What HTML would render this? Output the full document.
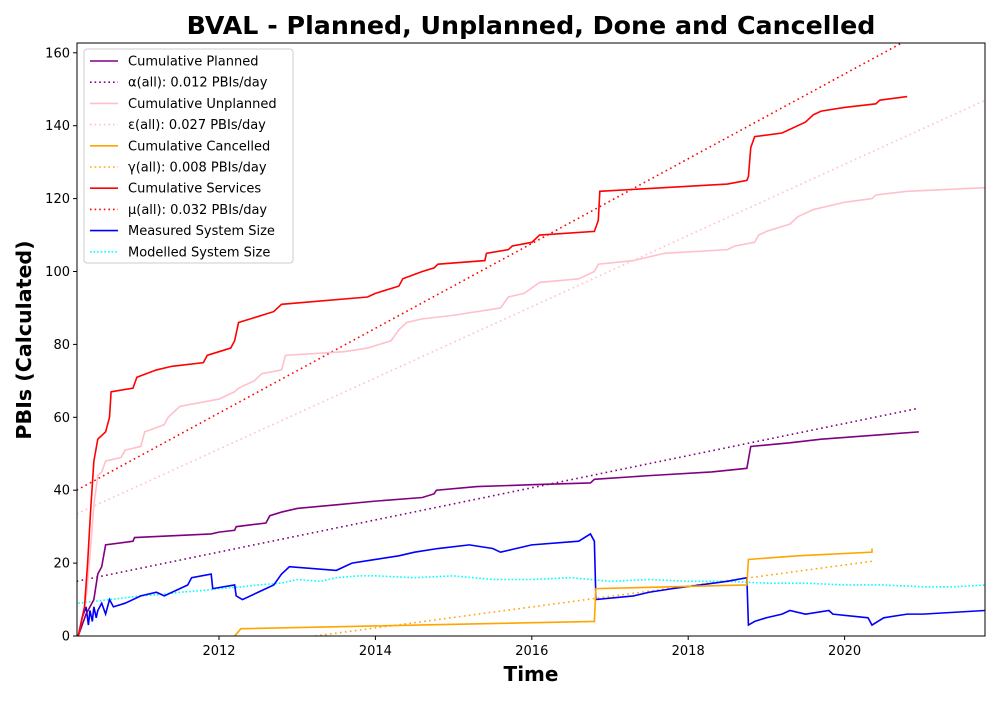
<!DOCTYPE html>
<html><head><meta charset="utf-8"><style>
body{margin:0;background:#fff;font-family:"Liberation Sans","DejaVu Sans",sans-serif}
svg text{font-family:"DejaVu Sans","Liberation Sans",sans-serif}
</style></head><body>
<svg id="c" width="1000" height="700" xmlns="http://www.w3.org/2000/svg"></svg>
<script>
const plannedX=[2010.2,2010.3,2010.35,2010.4,2010.45,2010.5,2010.55,2010.9,2010.92,2011.9,2012.0,2012.2,2012.22,2012.6,2012.65,2012.8,2013.0,2013.5,2014.0,2014.6,2014.75,2014.78,2015.3,2016.0,2016.75,2016.8,2017.5,2018.3,2018.75,2018.8,2019.3,2019.7,2020.95];
const plannedY=[0,6,8,10,17,19,25,26,27,28,28.5,29,30,31,33,34,35,36,37,38,39,40,41,41.5,42,43,44,45,46,52,53,54,56];
const unplX=[2010.2,2010.3,2010.35,2010.4,2010.45,2010.5,2010.55,2010.75,2010.8,2011.0,2011.05,2011.3,2011.35,2011.5,2012.0,2012.2,2012.25,2012.45,2012.55,2012.8,2012.85,2013.6,2013.9,2014.2,2014.3,2014.4,2014.6,2015.0,2015.6,2015.7,2015.9,2016.1,2016.6,2016.8,2016.85,2017.3,2017.7,2018.5,2018.6,2018.85,2018.9,2019.0,2019.3,2019.4,2019.6,2020.0,2020.35,2020.4,2020.8,2021.8];
const unplY=[0,10,22,36,44,45,48,49,51,52,56,58,60,63,65,67,68,70,72,73,77,78,79,81,84,86,87,88,90,93,94,97,98,100,102,103,105,106,107,108,110,111,113,115,117,119,120,121,122,123];
const servX=[2010.2,2010.28,2010.32,2010.36,2010.4,2010.45,2010.55,2010.6,2010.62,2010.9,2010.95,2011.2,2011.4,2011.8,2011.85,2012.0,2012.15,2012.2,2012.25,2012.7,2012.8,2013.9,2014.0,2014.3,2014.35,2014.6,2014.75,2014.8,2015.4,2015.42,2015.7,2015.75,2016.0,2016.1,2016.8,2016.85,2016.87,2018.5,2018.75,2018.77,2018.8,2018.85,2019.2,2019.5,2019.6,2019.7,2020.0,2020.4,2020.45,2020.8];
const servY=[0,8,20,35,48,54,56,60,67,68,71,73,74,75,77,78,79,81,86,89,91,93,94,96,98,100,101,102,103,105,106,107,108,110,111,114,122,124,125,126,134,137,138,141,143,144,145,146,147,148];
const cancX=[2012.2,2012.28,2016.8,2016.82,2018.75,2018.77,2019.4,2020.35,2020.35];
const cancY=[0,2,4,13,14,21,22,23,24];
const measX=[2010.2,2010.25,2010.3,2010.33,2010.35,2010.38,2010.4,2010.43,2010.45,2010.5,2010.55,2010.6,2010.65,2010.8,2011.0,2011.2,2011.3,2011.5,2011.6,2011.65,2011.9,2011.92,2012.2,2012.22,2012.3,2012.5,2012.7,2012.8,2012.9,2013.5,2013.7,2014.0,2014.3,2014.5,2014.8,2015.2,2015.5,2015.6,2015.8,2016.0,2016.6,2016.75,2016.8,2016.82,2017.3,2017.5,2017.8,2018.5,2018.75,2018.77,2018.85,2019.0,2019.2,2019.3,2019.5,2019.8,2019.85,2020.3,2020.35,2020.5,2020.8,2021.0,2021.8];
const measY=[0,5,8,3,7,4,8,5,7,9,6,10,8,9,11,12,11,13,14,16,17,13,14,11,10,12,14,17,19,18,20,21,22,23,24,25,24,23,24,25,26,28,26,10,11,12,13,15,16,3,4,5,6,7,6,7,6,5,3,5,6,6,7];
const modX=[2010.2,2010.4,2010.6,2010.8,2011.0,2011.3,2011.5,2011.8,2012.0,2012.3,2012.5,2012.8,2013.0,2013.3,2013.5,2013.8,2014.0,2014.5,2015.0,2015.5,2016.0,2016.5,2017.0,2017.5,2018.0,2018.5,2019.0,2019.5,2020.0,2020.5,2021.0,2021.4,2021.8];
const modY=[9,9.5,10,10.5,11,11.5,12,12.5,13,13.5,14,14.5,15.5,15,16,16.5,16.5,16,16.5,15.5,15.5,16,15,15.5,15,15,14.5,14.5,14,14,13.5,13.5,14];
const trends=[{x:[2010.18,2020.95],y:[15,62.5],c:'purple'},{x:[2010.18,2021.8],y:[33.5,147],c:'pink'},{x:[2013.23,2020.35],y:[0,20.5],c:'orange'},{x:[2010.18,2020.8],y:[40,163.5],c:'red'}];
const yTicks=[0,20,40,60,80,100,120,140,160];
const xTicks=[2012,2014,2016,2018,2020];
const L=77,R=985,T=43,B=636;
const sx=v=>219+(v-2012)*78.2;
const sy=v=>B-v*3.645;
const svg=document.getElementById('c');const NS='http://www.w3.org/2000/svg';
function mk(t,a,p){const e=document.createElementNS(NS,t);for(const k in a)e.setAttribute(k,a[k]);(p||svg).appendChild(e);return e;}
const clip=mk('clipPath',{id:'cp'});mk('rect',{x:L,y:T,width:R-L,height:B-T},clip);
const g=mk('g',{'clip-path':'url(#cp)'});
function line(xs,ys,col,dash,name,w){const p=mk('polyline',{points:xs.map((x,i)=>sx(x)+','+sy(ys[i])).join(' '),fill:'none',stroke:col,'stroke-width':w||1.6,'stroke-dasharray':dash||''},g);

}
trends.forEach((t,i)=>line(t.x,t.y,t.c,'1.6 3.4','trend-line-'+t.c,1.6));
line(modX,modY,'cyan','1.6 2','modelled-system-size-line');
line(measX,measY,'blue','','measured-system-size-line');
line(cancX,cancY,'orange','','cumulative-cancelled-line');
line(plannedX,plannedY,'purple','','cumulative-planned-line');
line(unplX,unplY,'pink','','cumulative-unplanned-line');
line(servX,servY,'red','','cumulative-services-line');
mk('rect',{x:L,y:T,width:R-L,height:B-T,fill:'none',stroke:'#000','stroke-width':1});
yTicks.forEach(v=>{mk('line',{x1:L-4,x2:L,y1:sy(v),y2:sy(v),stroke:'#000'});const t=mk('text',{x:L-7,y:sy(v)+4.5,'text-anchor':'end','font-size':13});t.textContent=v;

});
xTicks.forEach(v=>{mk('line',{x1:sx(v),x2:sx(v),y1:B,y2:B+4,stroke:'#000'});const t=mk('text',{x:sx(v),y:B+19,'text-anchor':'middle','font-size':13});t.textContent=v;

});
let t=mk('text',{x:531,y:34,'text-anchor':'middle','font-size':25.3,'font-weight':'bold'});t.textContent='BVAL - Planned, Unplanned, Done  and Cancelled';


t=mk('text',{x:531,y:681,'text-anchor':'middle','font-size':20,'font-weight':'bold'});t.textContent='Time';


t=mk('text',{x:31,y:340,'text-anchor':'middle','font-size':20.6,'font-weight':'bold',transform:'rotate(-90 31 340)'});t.textContent='PBIs (Calculated)';


const leg=[['Cumulative Planned','purple',''],['α(all): 0.012 PBIs/day','purple','1.6 3'],['Cumulative Unplanned','pink',''],['ε(all): 0.027 PBIs/day','pink','1.6 3'],['Cumulative Cancelled','orange',''],['γ(all): 0.008 PBIs/day','orange','1.6 3'],['Cumulative Services','red',''],['μ(all): 0.032 PBIs/day','red','1.6 3'],['Measured System Size','blue',''],['Modelled System Size','cyan','1.6 2']];
const lg=mk('g',{});
mk('rect',{x:84,y:49,width:209,height:214,fill:'#fff','fill-opacity':0.8,stroke:'#ccc',rx:3},lg);
leg.forEach((e,i)=>{const y=61+i*21.2;mk('line',{x1:90,x2:118,y1:y,y2:y,stroke:e[1],'stroke-width':1.6,'stroke-dasharray':e[2]},lg);const tx=mk('text',{x:128,y:y+4.5,'font-size':13},lg);tx.textContent=e[0];

});
</script>
</body></html>
